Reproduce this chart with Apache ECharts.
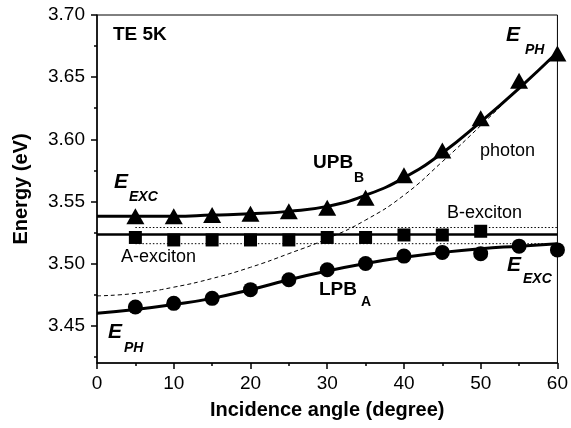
<!DOCTYPE html>
<html>
<head>
<meta charset="utf-8">
<script src="https://cdn.jsdelivr.net/npm/echarts@6/dist/echarts.min.js"></script>
<style>
body { margin: 0; background: #fff; }
#main { width: 571px; height: 428px; }
</style>
</head>
<body>
<div id="main"></div>
<script>
// measured points (degree)
var angles = [5, 10, 15, 20, 25, 30, 35, 40, 45, 50, 55, 60];
var upbB = [3.538, 3.538, 3.539, 3.540, 3.542, 3.545, 3.553, 3.571, 3.591, 3.617, 3.647, 3.669];
var lpbA = [3.465, 3.468, 3.472, 3.479, 3.487, 3.495, 3.500, 3.506, 3.509, 3.508, 3.514, 3.511];
var sqAngles = [5, 10, 15, 20, 25, 30, 35, 40, 45, 50];
var sqVals = [3.521, 3.519, 3.519, 3.519, 3.519, 3.521, 3.521, 3.523, 3.523, 3.526];

// fitted curves
var fitAngles = [0, 5, 10, 15, 20, 25, 30, 35, 40, 45, 50, 55, 60];
var upbFit = [3.538, 3.538, 3.538, 3.539, 3.540, 3.542, 3.546, 3.555, 3.569, 3.589, 3.614, 3.641, 3.670];
var lpbFit = [3.460, 3.463, 3.467, 3.472, 3.479, 3.487, 3.494, 3.500, 3.505, 3.509, 3.512, 3.514, 3.516];
var photonFit = [3.474, 3.476, 3.481, 3.488, 3.497, 3.508, 3.520, 3.535, 3.555, 3.582, 3.611, 3.641, 3.670];

// exciton levels
var excAngles = [0, 60];
var excVals = [3.5234, 3.5234];
var dotAngles = [5, 60];
var bExc = [3.529, 3.529];
var aExc = [3.516, 3.516];

var yLabels = [3.45, 3.50, 3.55, 3.60, 3.65, 3.70];
var yMinor = [3.425, 3.475, 3.525, 3.575, 3.625, 3.675];

function pairs(xs, ys) {
  return xs.map(function (x, i) { return [x, ys[i]]; });
}

var FONT = 'Liberation Sans';
var chart = echarts.init(document.getElementById('main'));

function txt(x, y, s, size, weight, style) {
  return {
    type: 'text', x: x, y: y, z: 100,
    style: {
      text: s, fill: '#000',
      font: (style || 'normal') + ' ' + (weight || 'normal') + ' ' + size + 'px "' + FONT + '"',
      textAlign: 'left', textVerticalAlign: 'middle'
    }
  };
}

var black = { color: '#000', opacity: 1 };

var option = {
  animation: false,
  grid: { left: 97, right: 11, top: 15, bottom: 65, show: true, borderColor: '#000', borderWidth: 1 },
  xAxis: {
    type: 'value', min: 0, max: 60, interval: 10,
    name: 'Incidence angle (degree)', nameLocation: 'middle', nameGap: 37,
    nameTextStyle: { fontFamily: FONT, fontSize: 20, fontWeight: 'bold', color: '#000' },
    axisLine: { onZero: false, lineStyle: { color: '#000', width: 1.5 } },
    axisTick: { length: 6, lineStyle: { color: '#000', width: 1.5 } },
    minorTick: { show: true, splitNumber: 2, length: 3, lineStyle: { color: '#000', width: 1.5 } },
    axisLabel: { fontFamily: FONT, fontSize: 19, color: '#000', margin: 11 },
    splitLine: { show: false }
  },
  yAxis: [{
    type: 'value', min: 3.42, max: 3.70, position: 'left',
    name: 'Energy (eV)', nameLocation: 'middle', nameGap: 66,
    nameTextStyle: { fontFamily: FONT, fontSize: 20, fontWeight: 'bold', color: '#000' },
    axisLine: { onZero: false, lineStyle: { color: '#000', width: 1.5 } },
    axisTick: { customValues: yLabels, length: 6, lineStyle: { color: '#000', width: 1.5 } },
    axisLabel: {
      customValues: yLabels, fontFamily: FONT, fontSize: 19, color: '#000', margin: 12,
      formatter: function (v) { return v.toFixed(2); }
    },
    splitLine: { show: false }
  }, {
    type: 'value', min: 3.42, max: 3.70, position: 'left', offset: 0,
    axisLine: { show: false },
    axisTick: { customValues: yMinor, length: 3, lineStyle: { color: '#000', width: 1.5 } },
    axisLabel: { show: false },
    splitLine: { show: false }
  }],
  series: [
    { type: 'line', data: pairs(fitAngles, photonFit), smooth: true, symbol: 'none',
      lineStyle: { color: '#000', width: 1, type: [4, 3] } },
    { type: 'line', data: pairs(dotAngles, bExc), symbol: 'none',
      lineStyle: { color: '#000', width: 1, type: [1.5, 2] } },
    { type: 'line', data: pairs(dotAngles, aExc), symbol: 'none',
      lineStyle: { color: '#000', width: 1, type: [1.5, 2] } },
    { type: 'line', data: pairs(excAngles, excVals), symbol: 'none',
      lineStyle: { color: '#000', width: 2.5 } },
    { type: 'line', data: pairs(fitAngles, upbFit), smooth: true, symbol: 'none',
      lineStyle: { color: '#000', width: 3 } },
    { type: 'line', data: pairs(fitAngles, lpbFit), smooth: true, symbol: 'none',
      lineStyle: { color: '#000', width: 3 } },
    { type: 'scatter', data: pairs(angles, upbB), symbol: 'triangle', symbolSize: [18, 16],
      itemStyle: black, emphasis: { disabled: true }, z: 5 },
    { type: 'scatter', data: pairs(sqAngles, sqVals), symbol: 'rect', symbolSize: 13,
      itemStyle: black, emphasis: { disabled: true }, z: 5 },
    { type: 'scatter', data: pairs(angles, lpbA), symbol: 'circle', symbolSize: 15,
      itemStyle: black, emphasis: { disabled: true }, z: 5 }
  ],
  graphic: [
    txt(113, 35, 'TE 5K', 19, 'bold'),
    txt(506, 35, 'E', 21, 'bold', 'italic'),
    txt(525, 50, 'PH', 14, 'bold', 'italic'),
    txt(480, 151, 'photon', 18),
    txt(447, 213, 'B-exciton', 18),
    txt(121, 257, 'A-exciton', 18),
    txt(313, 163, 'UPB', 19, 'bold'),
    txt(354, 178, 'B', 14, 'bold'),
    txt(319, 290, 'LPB', 19, 'bold'),
    txt(361, 302, 'A', 14, 'bold'),
    txt(114, 182, 'E', 21, 'bold', 'italic'),
    txt(129, 197, 'EXC', 14, 'bold', 'italic'),
    txt(507, 265, 'E', 21, 'bold', 'italic'),
    txt(523, 279, 'EXC', 14, 'bold', 'italic'),
    txt(108, 332, 'E', 21, 'bold', 'italic'),
    txt(124, 348, 'PH', 14, 'bold', 'italic')
  ]
};
chart.setOption(option);
</script>
</body>
</html>
